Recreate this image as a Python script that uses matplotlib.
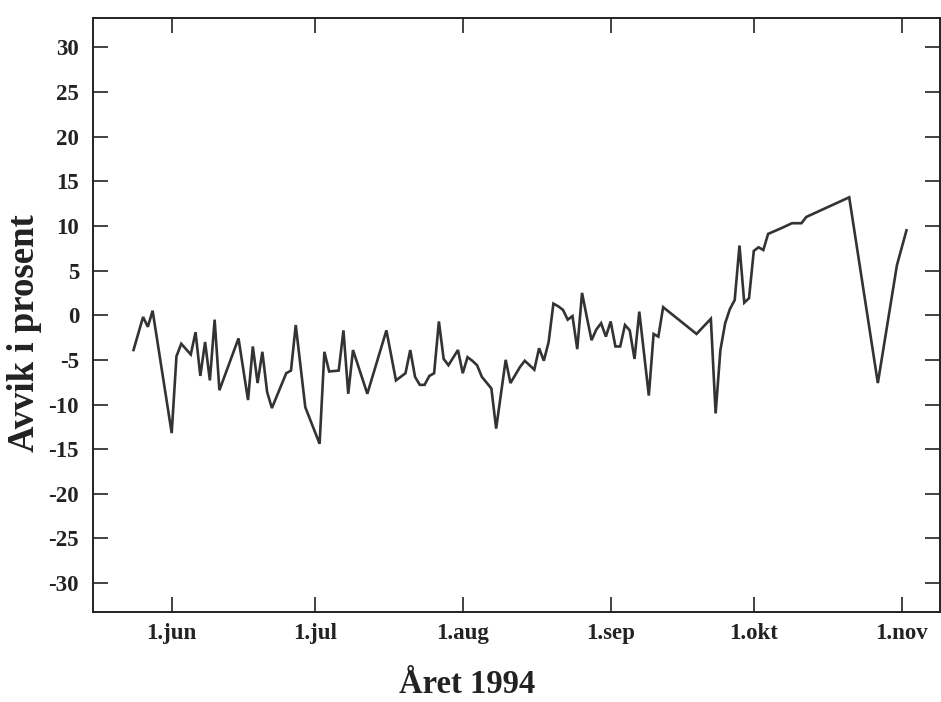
import matplotlib
matplotlib.use("Agg")
import matplotlib.pyplot as plt
import pandas as pd

# Daily deviation (percent), late May to early November 1994
dates = [
    "1994-05-24", "1994-05-26", "1994-05-27", "1994-05-28", "1994-06-01",
    "1994-06-02", "1994-06-03", "1994-06-05", "1994-06-06", "1994-06-07",
    "1994-06-08", "1994-06-09", "1994-06-10", "1994-06-11", "1994-06-15",
    "1994-06-17", "1994-06-18", "1994-06-19", "1994-06-20", "1994-06-21",
    "1994-06-22", "1994-06-25", "1994-06-26", "1994-06-27", "1994-06-29",
    "1994-07-02", "1994-07-03", "1994-07-04", "1994-07-06", "1994-07-07",
    "1994-07-08", "1994-07-09", "1994-07-12", "1994-07-16", "1994-07-18",
    "1994-07-20", "1994-07-21", "1994-07-22", "1994-07-23", "1994-07-24",
    "1994-07-25", "1994-07-26", "1994-07-27", "1994-07-28", "1994-07-29",
    "1994-07-31", "1994-08-01", "1994-08-02", "1994-08-03", "1994-08-04",
    "1994-08-05", "1994-08-07", "1994-08-08", "1994-08-10", "1994-08-11",
    "1994-08-13", "1994-08-14", "1994-08-16", "1994-08-17", "1994-08-18",
    "1994-08-19", "1994-08-20", "1994-08-21", "1994-08-22", "1994-08-23",
    "1994-08-24", "1994-08-25", "1994-08-26", "1994-08-27", "1994-08-28",
    "1994-08-29", "1994-08-30", "1994-08-31", "1994-09-01", "1994-09-02",
    "1994-09-03", "1994-09-04", "1994-09-05", "1994-09-06", "1994-09-07",
    "1994-09-09", "1994-09-10", "1994-09-11", "1994-09-12", "1994-09-19",
    "1994-09-22", "1994-09-23", "1994-09-24", "1994-09-25", "1994-09-26",
    "1994-09-27", "1994-09-28", "1994-09-29", "1994-09-30", "1994-10-01",
    "1994-10-02", "1994-10-03", "1994-10-04", "1994-10-07", "1994-10-09",
    "1994-10-11", "1994-10-12", "1994-10-21", "1994-10-27", "1994-10-31",
    "1994-11-02",
]
deviation = [
    -3.9, -0.2, -1.3, 0.5, -13.2,
    -4.6, -3.2, -4.4, -1.9, -6.8,
    -3.0, -7.3, -0.5, -8.4, -2.6,
    -9.5, -3.5, -7.6, -4.1, -8.6,
    -10.4, -6.5, -6.2, -1.1, -10.3,
    -14.4, -4.1, -6.3, -6.2, -1.7,
    -8.8, -3.9, -8.8, -1.7, -7.3,
    -6.5, -3.9, -6.9, -7.8, -7.8,
    -6.8, -6.5, -0.7, -4.9, -5.6,
    -3.9, -6.5, -4.7, -5.1, -5.6,
    -6.9, -8.2, -12.7, -5.0, -7.6,
    -5.8, -5.1, -6.1, -3.7, -5.1,
    -3.0, 1.3, 1.0, 0.6, -0.5,
    -0.1, -3.8, 2.5, -0.2, -2.8,
    -1.6, -0.9, -2.4, -0.7, -3.5,
    -3.5, -1.1, -1.7, -4.9, 0.4,
    -9.0, -2.1, -2.4, 0.9, -2.1,
    -0.4, -11.0, -3.9, -0.9, 0.7,
    1.7, 7.8, 1.4, 1.9, 7.2,
    7.6, 7.3, 9.1, 9.8, 10.3,
    10.3, 11.0, 13.2, -7.6, 5.6,
    9.5,
]

tick_dates = ["1994-06-01", "1994-07-01", "1994-08-01",
              "1994-09-01", "1994-10-01", "1994-11-01"]
tick_labels = ["1.jun", "1.jul", "1.aug", "1.sep", "1.okt", "1.nov"]
y_ticks = list(range(-30, 31, 5))

plt.rcParams["font.family"] = ["Liberation Serif", "DejaVu Serif"]
plt.rcParams["font.weight"] = "bold"
plt.rcParams["axes.unicode_minus"] = False

fig = plt.figure(figsize=(9.41, 7.02), dpi=100)
ax = fig.add_axes([0.0988, 0.128, 0.9, 0.846])

x = pd.to_datetime(dates)
ax.plot(x, deviation, color="#333333", linewidth=1.9, solid_joinstyle="miter")

ax.set_xlim(pd.Timestamp("1994-05-15 12:00"), pd.Timestamp("1994-11-09"))
ax.set_ylim(-33.25, 33.25)

ax.set_xticks(pd.to_datetime(tick_dates))
ax.set_xticklabels(tick_labels)
ax.set_yticks(y_ticks)
ax.set_yticklabels([str(v) for v in y_ticks])

ax.tick_params(axis="both", direction="in", length=11, width=1.2,
               colors="#222222", labelsize=16.5, top=True, right=True)
ax.tick_params(axis="x", pad=8)
ax.tick_params(axis="y", pad=10)
for lab in ax.get_xticklabels() + ax.get_yticklabels():
    lab.set_fontweight("bold")

for side in ["left", "bottom", "top", "right"]:
    ax.spines[side].set_linewidth(1.4)
    ax.spines[side].set_color("#222222")

ax.set_ylabel("Avvik i prosent", fontsize=26.5, fontweight="bold", color="#222222")
ax.yaxis.set_label_coords(-0.06, 0.47)
ax.set_xlabel("Året 1994", fontsize=23.5, fontweight="bold", color="#222222")
ax.xaxis.set_label_coords(0.442, -0.096)

fig.savefig("out.png", dpi=100)
